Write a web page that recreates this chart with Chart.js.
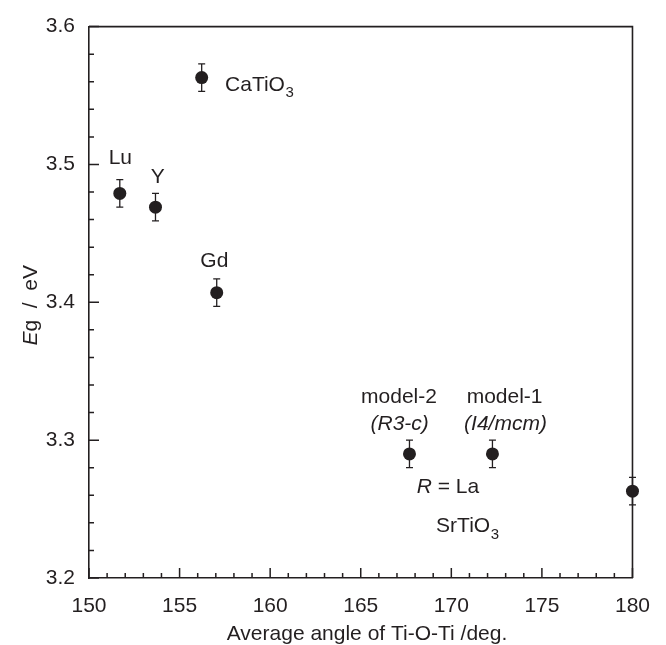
<!DOCTYPE html>
<html>
<head>
<meta charset="utf-8">
<script src="https://cdn.jsdelivr.net/npm/chart.js@4/dist/chart.umd.min.js"></script>
<style>
  html, body { margin: 0; padding: 0; background: #fff; }
  canvas { display: block; }
</style>
</head>
<body>
<canvas id="c" width="666" height="645"></canvas>
<script>
// ---- data ----
const names = ["Lu", "Y", "CaTiO3", "Gd", "model-2", "model-1", "SrTiO3"];
const angles = [151.7, 153.67, 156.22, 157.05, 167.69, 172.27, 180.0];
const gaps = [3.479, 3.469, 3.563, 3.407, 3.29, 3.29, 3.263];
const errors = [0.01, 0.01, 0.01, 0.01, 0.01, 0.01, 0.01];
const xTicks = [150, 155, 160, 165, 170, 175, 180];
const yTicks = [3.2, 3.3, 3.4, 3.5, 3.6];

// annotations anchored in data coordinates
const notes = [
  { x: 151.73, y: 3.5043, text: "Lu", align: "center" },
  { x: 153.79, y: 3.4909, text: "Y", align: "center" },
  { x: 157.51, y: 3.5574, text: "CaTiO", sub: "3", align: "left" },
  { x: 156.92, y: 3.4299, text: "Gd", align: "center" },
  { x: 167.11, y: 3.3314, text: "model-2", align: "center" },
  { x: 167.15, y: 3.3113, text: "(R3-c)", align: "center", italic: true },
  { x: 172.94, y: 3.3314, text: "model-1", align: "center" },
  { x: 172.99, y: 3.3113, text: "(I4/mcm)", align: "center", italic: true },
  { x: 169.81, y: 3.2656, text: "= La", pre: "R", align: "center" },
  { x: 169.16, y: 3.2373, text: "SrTiO", sub: "3", align: "left" }
];

const INK = '#231f20';
const FONT = 'Liberation Sans, Arial, Helvetica, sans-serif';
const FS = 21;

const points = angles.map((a, i) => ({ x: a, y: gaps[i] }));

const decor = {
  id: 'decor',
  afterDatasetsDraw(chart) {
    const ctx = chart.ctx;
    const xs = chart.scales.x, ys = chart.scales.y;
    const a = chart.chartArea;
    ctx.save();
    ctx.strokeStyle = INK;
    ctx.fillStyle = INK;
    // frame top & right
    ctx.lineWidth = 1.6;
    ctx.beginPath();
    ctx.moveTo(a.left, a.top); ctx.lineTo(a.right, a.top); ctx.lineTo(a.right, a.bottom);
    ctx.stroke();
    // inward ticks
    ctx.lineWidth = 1.5;
    ctx.beginPath();
    for (let v = 150; v <= 180.001; v += 1) {
      const px = xs.getPixelForValue(v);
      const major = Math.abs(v % 5) < 1e-6;
      const len = major ? 10 : 5;
      ctx.moveTo(px, a.bottom); ctx.lineTo(px, a.bottom - len);
    }
    for (let k = 0; k <= 20; k++) {
      const v = 3.2 + k * 0.02;
      const py = ys.getPixelForValue(v);
      const len = (k % 5 === 0) ? 10 : 5;
      ctx.moveTo(a.left, py); ctx.lineTo(a.left + len, py);
    }
    ctx.stroke();
    // error bars
    ctx.lineWidth = 1.3;
    ctx.beginPath();
    points.forEach((p, i) => {
      const px = xs.getPixelForValue(p.x);
      const y1 = ys.getPixelForValue(p.y - errors[i]);
      const y2 = ys.getPixelForValue(p.y + errors[i]);
      ctx.moveTo(px, y1); ctx.lineTo(px, y2);
      ctx.moveTo(px - 3.5, y1); ctx.lineTo(px + 3.5, y1);
      ctx.moveTo(px - 3.5, y2); ctx.lineTo(px + 3.5, y2);
    });
    ctx.stroke();
    // annotations
    ctx.textBaseline = 'middle';
    notes.forEach(n => {
      const px = xs.getPixelForValue(n.x);
      const py = ys.getPixelForValue(n.y);
      const mainFont = (n.italic ? 'italic ' : '') + FS + 'px ' + FONT;
      ctx.font = mainFont;
      let w = ctx.measureText(n.text).width;
      let preW = 0, subW = 0;
      if (n.pre) { ctx.font = 'italic ' + FS + 'px ' + FONT; preW = ctx.measureText(n.pre + ' ').width; }
      if (n.sub) { ctx.font = '15px ' + FONT; subW = ctx.measureText(n.sub).width; }
      const total = preW + w + subW;
      let x0 = n.align === 'center' ? px - total / 2 : px;
      ctx.textAlign = 'left';
      if (n.pre) { ctx.font = 'italic ' + FS + 'px ' + FONT; ctx.fillText(n.pre, x0, py); x0 += preW; }
      ctx.font = mainFont; ctx.fillText(n.text, x0, py); x0 += w;
      if (n.sub) { ctx.font = '15px ' + FONT; ctx.fillText(n.sub, x0 + 0.5, py + 8); }
    });
    // y axis title (rotated)
    ctx.save();
    ctx.translate(37, (a.top + a.bottom) / 2 + 3);
    ctx.rotate(-Math.PI / 2);
    ctx.textBaseline = 'alphabetic';
    ctx.font = 'italic ' + FS + 'px ' + FONT;
    const eW = ctx.measureText('E').width;
    ctx.font = FS + 'px ' + FONT;
    const rest = 'g  /  eV';
    const rW = ctx.measureText(rest).width;
    let sx = -(eW + rW) / 2;
    ctx.font = 'italic ' + FS + 'px ' + FONT;
    ctx.fillText('E', sx, 0);
    ctx.font = FS + 'px ' + FONT;
    ctx.fillText(rest, sx + eW, 0);
    ctx.restore();
    // x axis title
    ctx.textAlign = 'center';
    ctx.textBaseline = 'alphabetic';
    ctx.font = FS + 'px ' + FONT;
    ctx.fillText('Average angle of Ti-O-Ti /deg.', 367, 640);
    ctx.restore();
  }
};

new Chart(document.getElementById('c'), {
  type: 'scatter',
  data: {
    datasets: [{
      data: points,
      pointRadius: 6.5,
      pointHoverRadius: 6.5,
      backgroundColor: INK,
      borderWidth: 0,
      clip: false
    }]
  },
  options: {
    responsive: false,
    animation: false,
    devicePixelRatio: 1,
    layout: { padding: { left: 0, right: 21, top: 21, bottom: 0 } },
    plugins: { legend: { display: false }, tooltip: { enabled: false } },
    scales: {
      x: {
        type: 'linear', min: 150, max: 180,
        afterBuildTicks: s => { s.ticks = xTicks.map(v => ({ value: v })); },
        afterFit: s => { s.height = 67; },
        grid: { display: false, drawTicks: false },
        border: { display: true, color: INK, width: 1.6 },
        ticks: { color: INK, font: { family: FONT, size: 21 }, padding: 16, maxRotation: 0 }
      },
      y: {
        type: 'linear', min: 3.2, max: 3.6,
        afterBuildTicks: s => { s.ticks = yTicks.map(v => ({ value: v })); },
        afterFit: s => { s.width = 89; },
        grid: { display: false, drawTicks: false },
        border: { display: true, color: INK, width: 1.6 },
        ticks: { color: INK, font: { family: FONT, size: 21 }, padding: 14, callback: v => v.toFixed(1) }
      }
    }
  },
  plugins: [decor]
});
</script>
</body>
</html>
